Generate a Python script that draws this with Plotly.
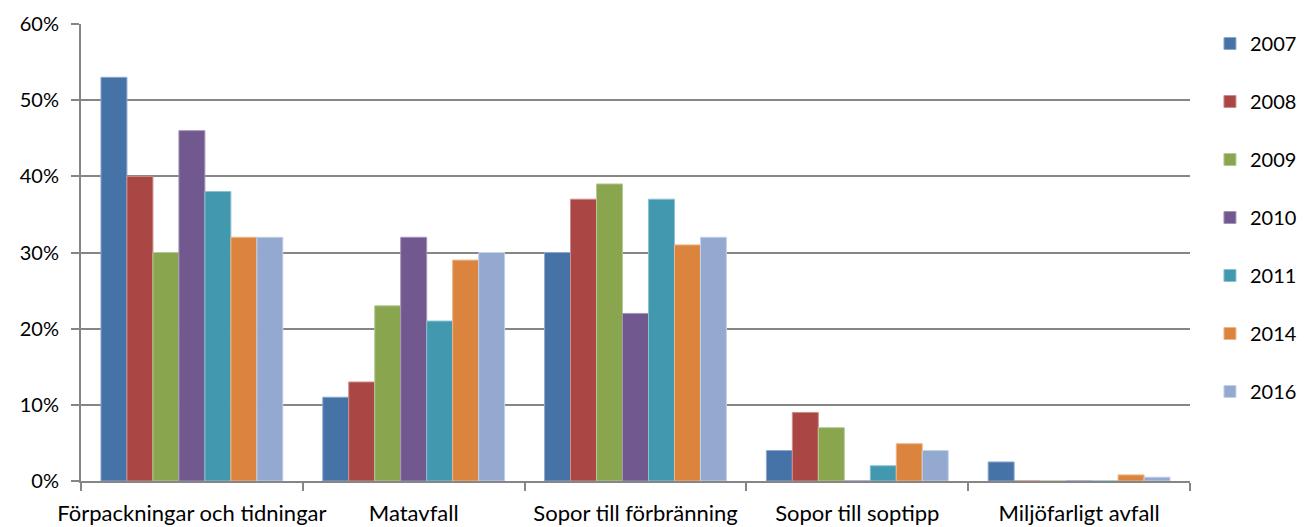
import plotly.graph_objects as go

categories = ["Förpackningar och tidningar", "Matavfall", "Sopor till förbränning",
              "Sopor till soptipp", "Miljöfarligt avfall"]
years = ["2007", "2008", "2009", "2010", "2011", "2014", "2016"]
v2007 = [53, 11, 30, 4, 2.5]
v2008 = [40, 13, 37, 9, 0]
v2009 = [30, 23, 39, 7, 0]
v2010 = [46, 32, 22, 0, 0]
v2011 = [38, 21, 37, 2, 0]
v2014 = [32, 29, 31, 4.9, 0.8]
v2016 = [32, 30, 32, 4, 0.5]
series = [v2007, v2008, v2009, v2010, v2011, v2014, v2016]
colors = ["#4572A7", "#AA4643", "#89A54E", "#71588F", "#4198AF", "#DB843D", "#93A9CF"]
edges = ["#8FA9CC", "#CC8E8C", "#B5C997", "#A595BA", "#8CC1D0", "#EDB78D", "#C4D1E7"]

fig = go.Figure()
for i, (y, vals) in enumerate(zip(years, series)):
    fig.add_trace(go.Bar(
        x=categories, y=vals, name=y,
        marker=dict(color=colors[i], line=dict(color=edges[i], width=1)),
        legendgroup=y,
    ))

# page body has an 8px margin, so the figure is 8px smaller and offset
font = "Lato, 'Open Sans', sans-serif"
fig.update_layout(
    width=1300, height=519,
    margin=dict(l=73, r=118, t=16, b=46, autoexpand=False),
    paper_bgcolor="white", plot_bgcolor="white",
    barmode="group", bargap=0.18, bargroupgap=0,
    font=dict(family=font, size=20, color="#000000"),
    showlegend=True,
    legend=dict(x=1.018, y=1.0, xanchor="left", yanchor="top",
                font=dict(size=20), tracegroupgap=29, traceorder="grouped",
                itemwidth=30),
    xaxis=dict(showline=True, linecolor="#868686", linewidth=2,
               ticks="outside", tickson="boundaries", ticklen=8,
               tickcolor="#868686", tickwidth=2, showgrid=False,
               tickangle=0, automargin=False, ticklabelstandoff=12,
               tickfont=dict(size=22)),
    yaxis=dict(range=[0, 60], dtick=10, ticksuffix="%",
               showline=True, linecolor="#868686", linewidth=2,
               ticks="outside", ticklen=8, tickcolor="#868686", tickwidth=2,
               showgrid=True, gridcolor="#868686", gridwidth=2,
               zeroline=False, automargin=False, ticklabelstandoff=8,
               tickfont=dict(size=20)),
)
fig.write_html("out.html")
